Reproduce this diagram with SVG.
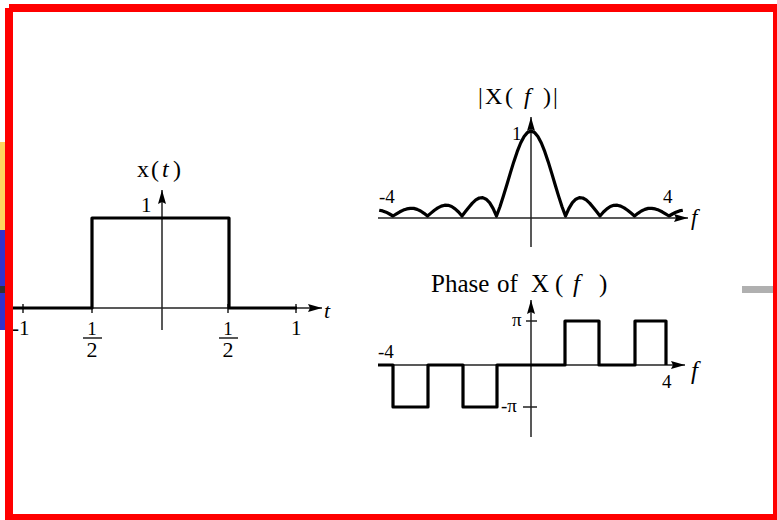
<svg xmlns="http://www.w3.org/2000/svg" width="777" height="520" viewBox="0 0 777 520">
<style>
.axis{fill:none;stroke:#222;stroke-width:1.5;marker-end:url(#arr)}
.tick{fill:none;stroke:#222;stroke-width:1.5}
.sig{fill:none;stroke:#000;stroke-width:3.2;stroke-linejoin:round;stroke-linecap:butt}
.lbl{font-family:"Liberation Serif","Times New Roman",serif;fill:#000}
.it{font-style:italic}
</style>
<defs>
<marker id="arr" viewBox="0 0 14 8" refX="14" refY="4" markerWidth="14" markerHeight="8" markerUnits="userSpaceOnUse" orient="auto">
<path d="M0,0 L14,4 L0,8 L2,4 z" fill="#000"/>
</marker>
</defs>
<rect width="777" height="520" fill="#fff"/>
<g id="side-strips">
<rect x="0" y="142" width="6" height="88" fill="#ffd45e"/>
<rect x="0" y="230" width="6" height="100" fill="#3333cc"/>
<rect x="0" y="286" width="6" height="7" fill="#333"/>
<rect x="742" y="286" width="31" height="7" fill="#b0b0b0"/>
</g>
<g id="plot-time">
<path class="axis" d="M13,308 H322"/>
<path class="axis" d="M162,330 V190"/>
<path class="tick" d="M23,304 V313 M92,304 V313 M228,304 V313 M296,304 V313"/>
<path class="sig" d="M13,308 H92 V218 H229 V308 H297"/>
<path class="tick" d="M83,338 H102 M219,338 H238"/>
<text class="lbl" y="177" font-size="24"><tspan x="137">x</tspan><tspan x="151">(</tspan><tspan x="162" class="it">t</tspan><tspan x="173">)</tspan></text>
<text class="lbl" x="141" y="212" font-size="21">1</text>
<text class="lbl" x="12" y="335" font-size="21">-1</text>
<text class="lbl" x="92" y="335" font-size="19" text-anchor="middle">1</text>
<text class="lbl" x="92" y="357" font-size="22" text-anchor="middle">2</text>
<text class="lbl" x="228" y="335" font-size="19" text-anchor="middle">1</text>
<text class="lbl" x="228" y="357" font-size="22" text-anchor="middle">2</text>
<text class="lbl" x="291" y="335" font-size="21">1</text>
<text class="lbl it" x="324" y="318" font-size="22">t</text>
</g>
<g id="plot-magnitude">
<path class="axis" d="M378,218 H688"/>
<path class="axis" d="M531,247 V117"/>
<path class="sig" d="M379.2,210.2 L382.65,210.9 386.1,212.2 389.55,214 393,216 396.45,213.9 399.9,211.8 403.35,210.1 406.8,208.9 410.25,208.3 413.7,208.4 417.15,209.4 420.6,211 424.05,213.3 427.5,216 430.95,213.1 434.4,210.3 437.85,207.9 441.3,206.1 444.75,205.2 448.2,205.3 451.65,206.5 455.1,208.8 458.55,212 462,216 465.45,211.6 468.9,207.2 472.35,203.1 475.8,199.9 479.25,198 482.7,197.6 486.15,199.2 489.6,202.7 493.05,208.4 496.5,216 499.95,206.7 503.4,196.1 506.85,184.7 510.3,173.1 513.75,161.9 517.2,151.7 520.65,143 524.1,136.5 527.55,132.4 531,131 534.45,132.4 537.9,136.5 541.35,143 544.8,151.7 548.25,161.9 551.7,173.1 555.15,184.7 558.6,196.1 562.05,206.7 565.5,216 568.95,208.4 572.4,202.7 575.85,199.2 579.3,197.6 582.75,198 586.2,199.9 589.65,203.1 593.1,207.2 596.55,211.6 600,216 603.45,212 606.9,208.8 610.35,206.5 613.8,205.3 617.25,205.2 620.7,206.1 624.15,207.9 627.6,210.3 631.05,213.1 634.5,216 637.95,213.3 641.4,211 644.85,209.4 648.3,208.4 651.75,208.3 655.2,208.9 658.65,210.1 662.1,211.8 665.55,213.9 669,216 672.45,214 675.9,212.2 679.35,210.9 682.8,210.2"/>
<text class="lbl" y="104" font-size="24"><tspan x="478">|</tspan><tspan x="485">X</tspan><tspan x="505">(</tspan><tspan x="524" class="it">f</tspan><tspan x="543">)</tspan><tspan x="553">|</tspan></text>
<text class="lbl" x="512" y="140" font-size="19">1</text>
<text class="lbl" x="379" y="203" font-size="19">-4</text>
<text class="lbl" x="663" y="203" font-size="19">4</text>
<text class="lbl it" x="691" y="225" font-size="23">f</text>
</g>
<g id="plot-phase">
<path class="axis" d="M378,365 H685"/>
<path class="axis" d="M531,437 V300"/>
<path class="tick" d="M526,321 H537 M523,407 H537"/>
<path class="sig" d="M378,365 H393 V407 H428 V365 H463 V407 H497 V365 H565 V321 H599 V365 H635 V321 H666 V365"/>
<text class="lbl" y="292" font-size="25"><tspan x="431">Phase</tspan><tspan x="497">of</tspan><tspan x="531">X</tspan><tspan x="555">(</tspan><tspan x="573" class="it">f</tspan><tspan x="599">)</tspan></text>
<text class="lbl" x="512" y="326" font-size="19">π</text>
<text class="lbl" x="501" y="412" font-size="19">-π</text>
<text class="lbl" x="378" y="358" font-size="19">-4</text>
<text class="lbl" x="662" y="388" font-size="19">4</text>
<text class="lbl it" x="691" y="379" font-size="25">f</text>
</g>
<g id="frame" fill="#ff0000">
<rect x="5" y="8" width="8" height="511"/>
<rect x="9" y="4" width="768" height="8"/>
<rect x="773" y="4" width="4" height="515"/>
<rect x="5" y="514" width="772" height="6"/>
</g>
</svg>
